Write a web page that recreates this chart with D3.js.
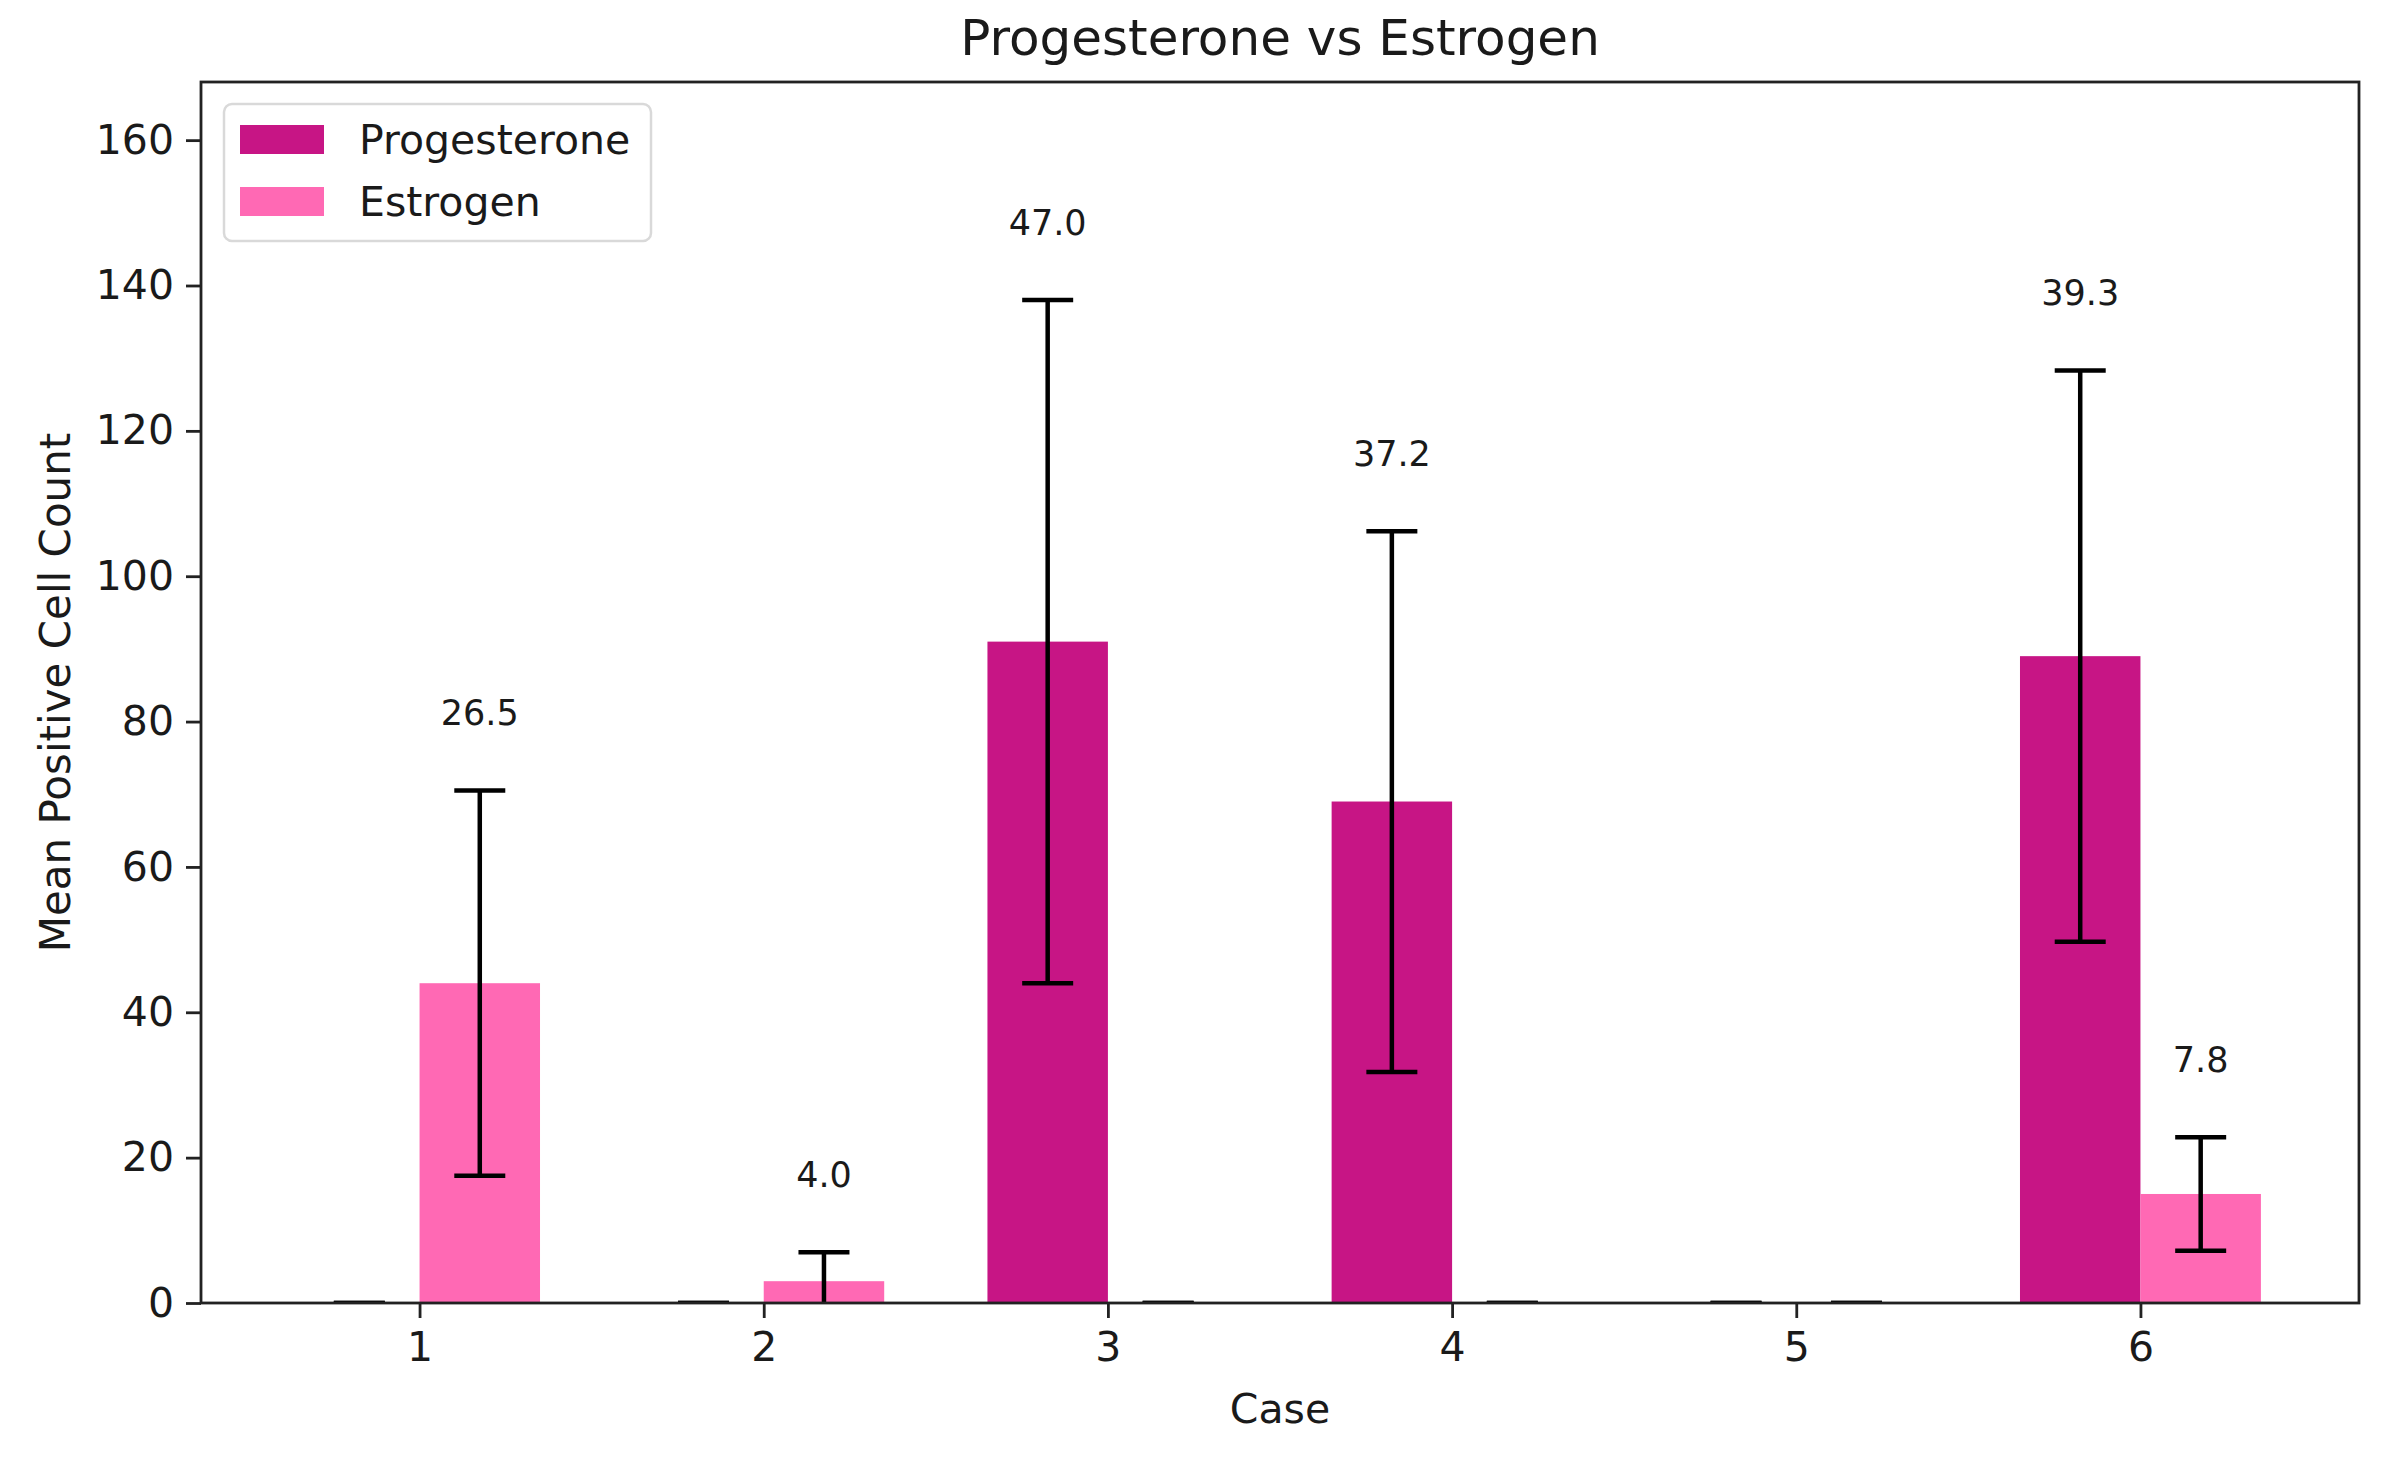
<!DOCTYPE html>
<html>
<head>
<meta charset="utf-8">
<script src="https://cdn.jsdelivr.net/npm/d3@7"></script>
<style>
  body { margin: 0; background: #fff; }
  text { font-family: "DejaVu Sans", sans-serif; fill: #1a1a1a; }
</style>
</head>
<body>
<svg id="chart" width="2386" height="1464"></svg>
<script>
// data
const cases = [1, 2, 3, 4, 5, 6];
const progMean = [0, 0, 91, 69, 0, 89];
const progSd = [0, 0, 47.0, 37.2, 0, 39.3];
const estMean = [44, 3, 0, 0, 0, 15];
const estSd = [26.5, 4.0, 0, 0, 0, 7.8];
const yTicks = [0, 20, 40, 60, 80, 100, 120, 140, 160];
const seriesNames = ["Progesterone", "Estrogen"];
const seriesColors = ["#C71585", "#FF69B4"];

const svg = d3.select("#chart");
const margin = { left: 201, right: 2359, top: 82, bottom: 1303 };
const barW = 0.35;

const x = d3.scaleLinear().domain([0.365, 6.635]).range([margin.left, margin.right]);
const y = d3.scaleLinear().domain([0, 168]).range([margin.bottom, margin.top]);

svg.append("defs").append("clipPath").attr("id", "clip")
  .append("rect")
  .attr("x", margin.left).attr("y", margin.top)
  .attr("width", margin.right - margin.left)
  .attr("height", margin.bottom - margin.top);

const plot = svg.append("g").attr("clip-path", "url(#clip)");

// build one record per bar
const bars = [];
cases.forEach((c, i) => {
  bars.push({ c: c, off: -barW / 2, mean: progMean[i], sd: progSd[i], s: 0 });
  bars.push({ c: c, off: barW / 2, mean: estMean[i], sd: estSd[i], s: 1 });
});

plot.selectAll("rect.bar")
  .data(bars)
  .enter()
  .append("rect")
  .attr("class", "bar")
  .attr("x", (d) => x(d.c + d.off - barW / 2))
  .attr("width", (d) => x(d.c + barW) - x(d.c))
  .attr("y", (d) => y(d.mean))
  .attr("height", (d) => y(0) - y(d.mean))
  .attr("fill", (d) => seriesColors[d.s]);

// error bars
const cap = 25.5;
const eb = plot.selectAll("g.err").data(bars).enter().append("g").attr("class", "err")
  .attr("stroke", "#000").attr("stroke-width", 4.5);
eb.append("line")
  .attr("x1", (d) => x(d.c + d.off)).attr("x2", (d) => x(d.c + d.off))
  .attr("y1", (d) => y(d.mean - d.sd)).attr("y2", (d) => y(d.mean + d.sd));
eb.append("line")
  .attr("x1", (d) => x(d.c + d.off) - cap).attr("x2", (d) => x(d.c + d.off) + cap)
  .attr("y1", (d) => y(d.mean + d.sd)).attr("y2", (d) => y(d.mean + d.sd));
eb.append("line")
  .attr("x1", (d) => x(d.c + d.off) - cap).attr("x2", (d) => x(d.c + d.off) + cap)
  .attr("y1", (d) => y(d.mean - d.sd)).attr("y2", (d) => y(d.mean - d.sd));

// sd labels
svg.selectAll("text.val")
  .data(bars.filter((d) => d.sd > 0))
  .enter()
  .append("text")
  .attr("class", "val")
  .attr("x", (d) => x(d.c + d.off))
  .attr("y", (d) => y(d.mean + d.sd + 9))
  .attr("text-anchor", "middle")
  .attr("font-size", 35)
  .text((d) => d.sd.toFixed(1));

// axes
const yAxis = d3.axisLeft(y).tickValues(yTicks).tickSize(15).tickPadding(12);
const gy = svg.append("g").attr("transform", `translate(${margin.left},0)`).call(yAxis);
const xAxis = d3.axisBottom(x).tickValues(cases).tickFormat(d3.format("d")).tickSize(15).tickPadding(14);
const gx = svg.append("g").attr("transform", `translate(0,${margin.bottom})`).call(xAxis);
[gx, gy].forEach((g) => {
  g.select(".domain").remove();
  g.selectAll("line").attr("stroke", "#222").attr("stroke-width", 2.8);
  g.selectAll("text").attr("font-size", 41).attr("font-family", "DejaVu Sans").attr("fill", "#1a1a1a");
});

svg.append("rect")
  .attr("x", margin.left).attr("y", margin.top)
  .attr("width", margin.right - margin.left)
  .attr("height", margin.bottom - margin.top)
  .attr("fill", "none").attr("stroke", "#222").attr("stroke-width", 2.8);

// titles
svg.append("text").attr("x", (margin.left + margin.right) / 2).attr("y", 55)
  .attr("text-anchor", "middle").attr("font-size", 50).text("Progesterone vs Estrogen");
svg.append("text").attr("x", (margin.left + margin.right) / 2).attr("y", 1423)
  .attr("text-anchor", "middle").attr("font-size", 41).text("Case");
svg.append("text")
  .attr("transform", `translate(70,${(margin.top + margin.bottom) / 2}) rotate(-90)`)
  .attr("text-anchor", "middle").attr("font-size", 42).text("Mean Positive Cell Count");

// legend
const lg = svg.append("g");
lg.append("rect").attr("x", 224).attr("y", 104).attr("width", 427).attr("height", 137)
  .attr("rx", 8).attr("fill", "#fff").attr("fill-opacity", 0.8)
  .attr("stroke", "#d9d9d9").attr("stroke-width", 2.5);
seriesNames.forEach((name, i) => {
  const cy = 139.5 + i * 62;
  lg.append("rect").attr("x", 240).attr("y", cy - 14.5).attr("width", 84).attr("height", 29)
    .attr("fill", seriesColors[i]);
  lg.append("text").attr("x", 359).attr("y", cy).attr("dy", "0.35em")
    .attr("font-size", 41).text(name);
});
</script>
</body>
</html>
